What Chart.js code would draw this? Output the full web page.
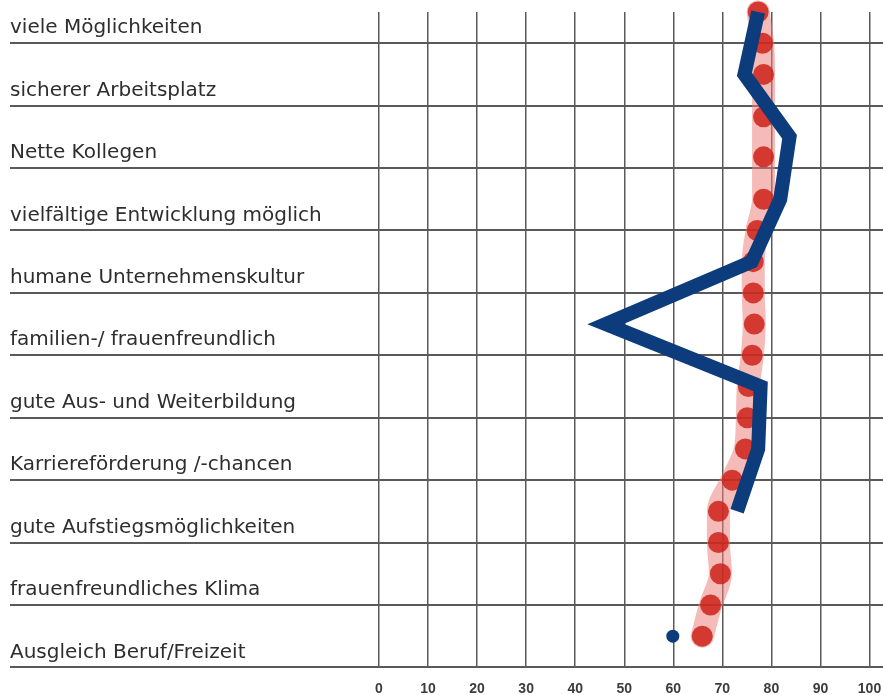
<!DOCTYPE html>
<html lang="de">
<head>
    <meta charset="UTF-8">
    <title>Arbeitgeber-Attraktivität</title>
    <script src="https://cdn.jsdelivr.net/npm/chart.js@4.4.1/dist/chart.umd.min.js"></script>
    <style>
        * {
            margin: 0;
            padding: 0;
            box-sizing: border-box;
        }

        body {
            background: #ffffff;
        }

        .chart-wrapper {
            position: relative;
            width: 883px;
            height: 695px;
        }
    </style>
</head>
<body>
    <div class="chart-wrapper">
        <canvas id="profileChart"></canvas>
    </div>

    <script>
        // Kategorien (von oben nach unten)
        const categories = [
            'viele Möglichkeiten',
            'sicherer Arbeitsplatz',
            'Nette Kollegen',
            'vielfältige Entwicklung möglich',
            'humane Unternehmenskultur',
            'familien-/ frauenfreundlich',
            'gute Aus- und Weiterbildung',
            'Karriereförderung /-chancen',
            'gute Aufstiegsmöglichkeiten',
            'frauenfreundliches Klima',
            'Ausgleich Beruf/Freizeit'
        ];

        // blaue Linie: ein Wert je Kategorie (null = kein Wert)
        const blueValues = [77.3, 74.5, 83.7, 81.8, 76, 46.2, 77.8, 77.3, 73, null, 59.9];

        // rote Punktlinie: Position (in Kategorien) und Wert
        const redRows = [0, 0.5, 1, 1.68, 2.32, 3, 3.5, 4, 4.5, 5, 5.5, 6, 6.5, 7, 7.5, 8, 8.5, 9, 9.5, 10];
        const redValues = [77.3, 78.2, 78.4, 78.4, 78.4, 78.4, 77.1, 76.3, 76.3, 76.5, 76.1, 75.3, 75.1, 74.7, 72.0, 69.2, 69.2, 69.6, 67.6, 65.9];

        // Achse unten
        const xTicks = [0, 10, 20, 30, 40, 50, 60, 70, 80, 90, 100];
        // Trennlinien zwischen den Zeilen
        const rowLines = [0.5, 1.5, 2.5, 3.5, 4.5, 5.5, 6.5, 7.5, 8.5, 9.5, 10.5];

        const blueData = blueValues.map((v, i) => ({ x: v, y: i }));
        const redData = redValues.map((v, i) => ({ x: v, y: redRows[i] }));

        const config = {
            type: 'line',
            data: {
                datasets: [
                    {
                        label: 'blau',
                        data: blueData,
                        borderColor: '#0c3c7c',
                        backgroundColor: '#0c3c7c',
                        borderWidth: 14,
                        borderJoinStyle: 'miter',
                        borderCapStyle: 'butt',
                        tension: 0,
                        spanGaps: false,
                        pointRadius: blueValues.map((v, i) => i === blueValues.length - 1 ? 6.5 : 0),
                        pointBorderWidth: 0,
                        clip: false,
                        order: 0
                    },
                    {
                        label: 'rot',
                        data: redData,
                        borderColor: 'rgba(236, 125, 118, 0.52)',
                        borderWidth: 23,
                        borderCapStyle: 'round',
                        cubicInterpolationMode: 'monotone',
                        pointRadius: 10.5,
                        pointBackgroundColor: 'rgba(204, 32, 22, 0.84)',
                        pointBorderWidth: 0,
                        clip: false,
                        order: 1
                    }
                ]
            },
            options: {
                indexAxis: 'y',
                responsive: true,
                maintainAspectRatio: false,
                animation: false,
                events: [],
                layout: {
                    autoPadding: false,
                    padding: { left: 10, top: 12, right: 0, bottom: 0 }
                },
                plugins: {
                    legend: { display: false },
                    tooltip: { enabled: false }
                },
                scales: {
                    x: {
                        type: 'linear',
                        position: 'bottom',
                        min: 0,
                        max: 102.75,
                        afterBuildTicks: (scale) => {
                            scale.ticks = xTicks.map(v => ({ value: v }));
                        },
                        afterFit: (scale) => {
                            scale.height = 27;
                        },
                        border: { display: false },
                        grid: {
                            color: '#5a5a5a',
                            lineWidth: 1.5,
                            drawTicks: true,
                            tickLength: 13,
                            tickColor: 'rgba(0, 0, 0, 0)'
                        },
                        ticks: {
                            padding: 0,
                            color: '#3c3c3c',
                            font: { family: 'Liberation Sans', size: 14, weight: 'bold' },
                            maxRotation: 0
                        }
                    },
                    y: {
                        type: 'linear',
                        position: 'left',
                        reverse: true,
                        min: 0,
                        max: 10.51,
                        afterBuildTicks: (scale) => {
                            scale.ticks = rowLines.map(v => ({ value: v }));
                        },
                        afterFit: (scale) => {
                            scale.width = 369;
                            scale.paddingTop = 0;
                            scale.paddingBottom = 0;
                        },
                        border: { display: false },
                        grid: {
                            color: '#5a5a5a',
                            lineWidth: 2,
                            tickLength: 369
                        },
                        ticks: {
                            crossAlign: 'far',
                            labelOffset: -15,
                            padding: 0,
                            color: '#2e2e2e',
                            font: { family: 'DejaVu Sans', size: 20 },
                            callback: (value, index) => categories[index]
                        }
                    }
                }
            }
        };

        const ctx = document.getElementById('profileChart').getContext('2d');
        const chart = new Chart(ctx, config);
    </script>
</body>
</html>
